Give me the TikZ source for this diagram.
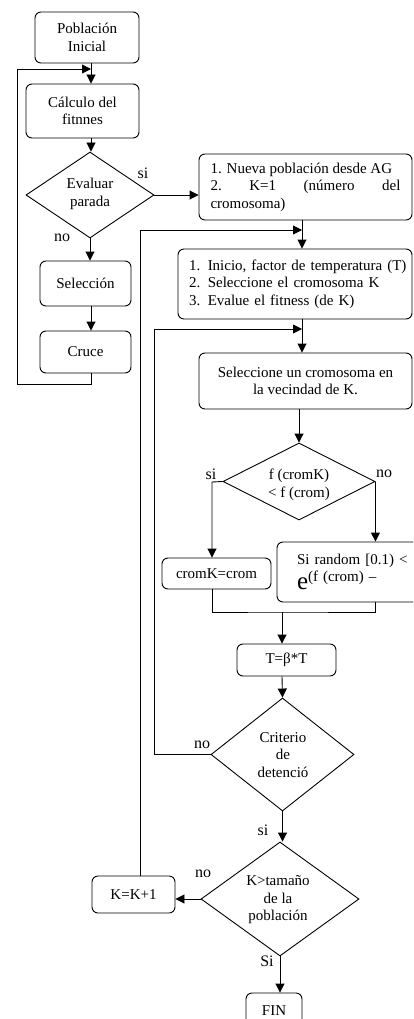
\documentclass[tikz,border=0pt]{standalone}
\usepackage{fontspec}
\setmainfont{Liberation Serif}
\usetikzlibrary{shapes.geometric,arrows.meta}
\begin{document}
\begin{tikzpicture}[x=1pt,y=-1pt,
  every node/.style={font=\fontsize{15}{17.5}\selectfont, text=black},
  box/.style={draw, rounded corners=6pt, line width=0.9pt, inner sep=0pt, align=center},
  diam/.style={draw, diamond, line width=0.9pt, inner sep=0pt},
  txt/.style={inner sep=0pt, align=center},
  line/.style={line width=0.9pt},
  arr/.style={line width=0.9pt, -{Triangle[length=9pt,width=9pt]}},
  lab/.style={inner sep=0pt, font=\fontsize{16}{18}\selectfont}
]
\clip (0,0) rectangle (413,1019);
% left column
\node[box, minimum width=104pt, minimum height=51pt] (pob) at (87,37.5) {Población\\Inicial};
\node[box, minimum width=113pt, minimum height=54pt] (calc) at (82.5,111) {Cálculo del\\fitnnes};
\node[diam, minimum width=128pt, minimum height=86pt] (eval) at (90,195) {};
\node[txt] (evalt) at (90,194) {Evaluar\\parada};
\node[box, minimum width=91pt, minimum height=45pt] (sel) at (85.5,283.5) {Selección};
\node[box, minimum width=91pt, minimum height=42pt] (cruce) at (85.5,352) {Cruce};
% right column
\node[box, minimum width=213pt, minimum height=66pt, text width=190pt, align=justify] (nueva) at (305.5,187)
  {1. Nueva población desde AG\\2.\hfill K=1\hfill (número\hfill del\\cromosoma)};
\node[box, minimum width=234pt, minimum height=70pt, text width=212pt, align=left] (ini) at (295,284)
  {\mbox{1. Inicio, factor de temperatura (T)}\\2. Seleccione el cromosoma K\\3. Evalue el fitness (de K)};
\node[box, minimum width=213pt, minimum height=56pt] (selv) at (305.5,381) {Seleccione un cromosoma en\\la vecindad de K.};
\node[diam, minimum width=152pt, minimum height=77pt] (comp) at (299,481.5) {};
\node[txt] (compt) at (299,485) {f (cromK)\\< f (crom)};
\node[box, minimum width=109pt, minimum height=31pt] (cromk) at (216.5,573.5) {cromK=crom};
\node[box, minimum width=146pt, minimum height=60pt, text width=106pt, align=left] (rand) at (350,572)
  {\mbox{Si random [0.1) <}\\[3pt]\mbox{{\fontsize{25}{20}\selectfont e}\raisebox{8pt}{(f (crom) –}}};
\node[box, minimum width=99pt, minimum height=32pt] (tbeta) at (286.5,660) {T=β*T};
\node[diam, minimum width=143pt, minimum height=113pt] (crit) at (282.5,754.5) {};
\node[txt] (critt) at (283,755) {Criterio\\de\\detenció};
\node[diam, minimum width=158pt, minimum height=114pt] (ktam) at (280,899) {};
\node[txt] (ktamt) at (278,900) {K>tamaño\\de la\\población};
\node[box, minimum width=83pt, minimum height=37pt] (kk) at (133.5,894.5) {K=K+1};
\node[box, minimum width=56pt, minimum height=36pt] (fin) at (274,1011) {FIN};
% labels
\node[lab] (si1) at (143,173) {si};
\node[lab] (no1) at (62,238) {no};
\node[lab] (si2) at (211,474) {si};
\node[lab] (no2) at (384,474) {no};
\node[lab] (no3) at (202,745) {no};
\node[lab] (si3) at (263,830) {si};
\node[lab] (no4) at (203,874) {no};
\node[lab] (si4) at (267,961) {Si};
% coordinates
\coordinate (cL) at (91,69);
\coordinate (lpL) at (17,384);
\coordinate (r1) at (302,230);
\coordinate (l1) at (140,230);
\coordinate (r2) at (302,329);
\coordinate (l2) at (154,329);
\coordinate (bl) at (212,482);
\coordinate (m) at (282,612);
% connectors left
\draw[arr] (pob.south -| cL) -- (calc.north -| cL);
\draw[arr] (cruce.south -| cL) |- (lpL) |- (cL);
\draw[arr] (calc.south -| cL) -- (eval.north -| cL);
\draw[arr] (eval.south) -- (eval.south |- sel.north);
\draw[arr] (sel.south -| cL) -- (cruce.north -| cL);
\draw[arr] (eval.east) -- (eval.east -| nueva.west);
% connectors right
\draw[arr] (nueva.south -| r1) -- (ini.north -| r1);
\draw[arr] (kk.north -| l1) -- (l1) -- (r1);
\draw[arr] (ini.south -| r2) -- (selv.north -| r2);
\draw[arr] (crit.west) -| (l2) -- (r2);
\draw[arr] (selv.south -| comp.north) -- (comp.north);
\draw[arr] (comp.west) -- (bl) -- (bl |- cromk.north);
\draw[arr] (comp.east) -- (comp.east |- rand.north);
\draw[line] (cromk.south -| bl) |- (m) -| (comp.east |- rand.south);
\draw[arr] (m) -- (m |- tbeta.north);
\draw[arr] (tbeta.south -| m) -- (crit.north);
\draw[arr] (crit.south) -- (crit.south |- ktam.north);
\draw[arr] (ktam.west) -- (ktam.west -| kk.east);
\draw[arr] (ktam.south) -- (ktam.south |- fin.north);
\end{tikzpicture}
\end{document}
